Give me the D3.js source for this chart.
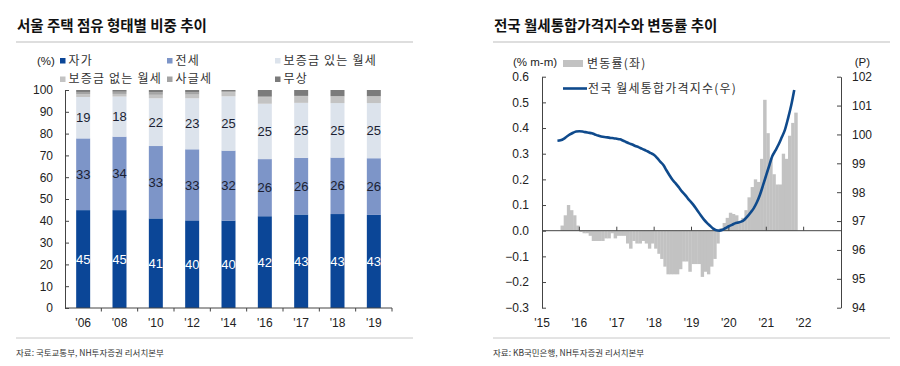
<!DOCTYPE html>
<html><head><meta charset="utf-8">
<script src="https://cdn.jsdelivr.net/npm/d3@7"></script>
<style>
body{margin:0;background:#fff;}
svg{display:block;color:#222;}
text{font-family:"Liberation Sans Narrow","Liberation Sans",Arial,sans-serif;}
.kr{font-family:"Noto Sans CJK KR","Noto Sans",sans-serif;}
</style></head><body>
<svg id="c" width="900" height="366" fill="#222"></svg>
<script>
// ---------- LEFT CHART DATA ----------
const years = ["'06","'08","'10","'12","'14","'16","'17","'18","'19"];
const seriesNames = ["자가","전세","보증금 있는 월세","보증금 없는 월세","사글세","무상"];
const owner    = [44.9,44.9,41.1,40.2,40.1,42.1,42.9,43.1,42.7];
const jeonse   = [32.9,33.7,33.2,32.6,32.1,26.2,26.0,25.9,26.0];
const rentDep  = [19.0,18.4,21.9,23.4,24.9,25.4,25.2,25.0,25.3];
const rentNoDep= [1.3,1.2,1.6,1.7,1.9,3.0,3.0,3.0,3.0];
const sagul    = [1.0,1.0,1.2,1.0,0.3,0.3,0.2,0.2,0.2];
const free     = [0.9,0.8,1.0,1.1,0.7,3.0,2.7,2.8,2.8];
const leftTicks = [0,10,20,30,40,50,60,70,80,90,100];

// ---------- RIGHT CHART DATA ----------
const rateStart = [2015,7];   // first month of change-rate bars (Jul 2015)
const rate = [0.02,0.06,0.10,0.08,0.06,0.02,-0.005,-0.01,-0.01,-0.02,-0.04,-0.04,
  -0.04,-0.04,-0.03,-0.03,-0.01,-0.03,-0.02,-0.02,-0.02,-0.05,-0.07,-0.04,
  -0.05,-0.05,-0.04,-0.05,-0.07,-0.05,-0.07,-0.09,-0.11,-0.14,-0.17,-0.17,
  -0.17,-0.17,-0.15,-0.12,-0.12,-0.16,-0.13,-0.13,-0.13,-0.18,-0.16,-0.17,
  -0.14,-0.11,-0.05,0.01,0.03,0.05,0.07,0.065,0.06,0.035,0.05,0.08,
  0.13,0.17,0.20,0.19,0.28,0.51,0.38,0.28,0.22,0.18,0.18,0.30,
  0.28,0.37,0.42,0.46];
const indexStart = [2015,6]; // first month of index line (Jun 2015)
const indexVals = [99.78,99.80,99.85,99.93,100.00,100.06,100.10,100.11,100.10,100.08,100.06,100.04,
  100.00,99.96,99.93,99.91,99.90,99.88,99.87,99.85,99.83,99.79,99.74,99.69,
  99.65,99.60,99.56,99.51,99.46,99.41,99.35,99.29,99.18,99.06,98.94,98.76,
  98.58,98.42,98.30,98.16,98.02,97.90,97.76,97.64,97.50,97.36,97.20,97.06,
  96.94,96.84,96.74,96.68,96.67,96.70,96.76,96.82,96.87,96.92,96.95,96.98,
  97.05,97.16,97.30,97.45,97.65,97.92,98.25,98.60,98.95,99.25,99.45,99.65,
  99.90,100.15,100.55,101.00,101.54];
const xYearLabels = ["'15","'16","'17","'18","'19","'20","'21","'22"];
const rateTicks = [0.6,0.5,0.4,0.3,0.2,0.1,0.0,-0.1,-0.2,-0.3];
const idxTicks = [94,95,96,97,98,99,100,101,102];

const svg = d3.select("#c");
const axisColor = "#444";

// ---------- Headers / footers ----------
function frame(x0, x1, title, source){
  svg.append("text").attr("class","kr").attr("x",x0+1).attr("y",31)
    .attr("font-size",14.5).attr("font-weight","bold").attr("fill","#111").text(title);
  svg.append("line").attr("x1",x0).attr("x2",x1).attr("y1",42).attr("y2",42)
    .attr("stroke","#bdbdbd").attr("stroke-width",1.2);
  svg.append("line").attr("x1",x0).attr("x2",x1).attr("y1",338).attr("y2",338)
    .attr("stroke","#c8c8c8").attr("stroke-width",1);
  svg.append("text").attr("class","kr").attr("x",x0).attr("y",356)
    .attr("font-size",8.5).attr("fill","#333").text(source);
}
frame(16, 413, "서울 주택 점유 형태별 비중 추이", "자료: 국토교통부, NH투자증권 리서치본부");
frame(493, 890, "전국 월세통합가격지수와 변동률 추이", "자료: KB국민은행, NH투자증권 리서치본부");

// ---------- LEFT CHART ----------
const colors = ["#0b4697","#7d95c8","#dce3ec","#c3c3c3","#a3a3a3","#7b7b7b"];
const rows = years.map((y,i)=>({year:y, s0:owner[i], s1:jeonse[i], s2:rentDep[i], s3:rentNoDep[i], s4:sagul[i], s5:free[i]}));
const keys = ["s0","s1","s2","s3","s4","s5"];
const stack = d3.stack().keys(keys)(rows);

const xL = d3.scaleBand().domain(years).range([65,392]).paddingInner(0.615).paddingOuter(0.3075);
const yL = d3.scaleLinear().domain([0,100]).range([308,90]);

const gL = svg.append("g");
stack.forEach((layer,k)=>{
  gL.append("g").selectAll("rect").data(layer).join("rect")
    .attr("x",d=>xL(d.data.year)).attr("width",xL.bandwidth())
    .attr("y",d=>yL(d[1])).attr("height",d=>yL(d[0])-yL(d[1]))
    .attr("fill",colors[k]);
});
// value labels for first three series
[0,1,2].forEach(k=>{
  gL.append("g").selectAll("text").data(stack[k]).join("text")
    .attr("x",d=>xL(d.data.year)+xL.bandwidth()/2)
    .attr("y",d=>(yL(d[0])+yL(d[1]))/2)
    .attr("dy","0.36em").attr("text-anchor","middle").attr("font-size",13)
    .style("fill",k===0?"#ffffff":"#1b1f33")
    .text(d=>Math.round(d[1]-d[0]));
});
// y axis
const axL = gL.append("g").attr("transform","translate(65,0)")
  .call(d3.axisLeft(yL).tickValues(leftTicks).tickSize(-4).tickPadding(12).tickSizeOuter(0));
axL.selectAll("text").attr("font-size",12);
axL.selectAll("line,path").attr("stroke",axisColor);
// x axis
const axX = gL.append("g").attr("transform","translate(0,308)")
  .call(d3.axisBottom(xL).tickSize(0).tickPadding(10));
axX.select(".domain").attr("d","M65,0H392").attr("stroke",axisColor);
axX.selectAll("text").attr("font-size",12);
const step = xL.step();
gL.append("g").selectAll("line").data(d3.range(1,years.length+1)).join("line")
  .attr("x1",k=>65+k*step).attr("x2",k=>65+k*step).attr("y1",308).attr("y2",311.5)
  .attr("stroke",axisColor);

// legend
svg.append("text").attr("x",37).attr("y",61).attr("dy","0.35em").attr("font-size",11.5).text("(%)");
const legPos = [[60,60.5],[167,60.5],[275,60.5],[60,79],[167,79],[275,79]];
seriesNames.forEach((n,k)=>{
  svg.append("rect").attr("x",legPos[k][0]).attr("y",legPos[k][1]-2.5).attr("width",5.5).attr("height",5.5).attr("fill",colors[k]);
  svg.append("text").attr("class","kr").attr("x",legPos[k][0]+8.5).attr("y",legPos[k][1])
    .attr("dy","0.36em").attr("font-size",12).attr("letter-spacing",1.2).attr("fill","#333").text(n);
});

// ---------- RIGHT CHART ----------
const xR = d3.scaleTime().domain([new Date(2015,0,1), new Date(2023,0,1)]).range([542,841]);
const yR = d3.scaleLinear().domain([-0.3,0.6]).range([307.7,76.7]);
const yR2 = d3.scaleLinear().domain([94,102]).range([307.7,76.7]);
const gR = svg.append("g");

const rateData = rate.map((v,i)=>({d:d3.timeMonth.offset(new Date(rateStart[0],rateStart[1]-1,1),i), v}));
gR.append("g").selectAll("rect").data(rateData).join("rect")
  .attr("x",d=>xR(d.d))
  .attr("width",d=>xR(d3.timeMonth.offset(d.d,1))-xR(d.d)+0.3)
  .attr("y",d=>yR(Math.max(0,d.v)))
  .attr("height",d=>Math.abs(yR(d.v)-yR(0)))
  .attr("fill","#c2c2c2");

// zero axis with upward ticks
const yearDates = xYearLabels.map((_,i)=>new Date(2015+i,0,1));
gR.append("line").attr("x1",542).attr("x2",841).attr("y1",yR(0)).attr("y2",yR(0)).attr("stroke",axisColor);
gR.append("g").selectAll("line").data(yearDates.slice(1)).join("line")
  .attr("x1",d=>xR(d)).attr("x2",d=>xR(d)).attr("y1",yR(0)).attr("y2",yR(0)-4).attr("stroke",axisColor);
gR.append("g").selectAll("text").data(yearDates).join("text")
  .attr("x",d=>xR(d)).attr("y",323).attr("dy","0.35em").attr("text-anchor","middle")
  .attr("font-size",12).text((d,i)=>xYearLabels[i]);

// line
const idxData = indexVals.map((v,i)=>({d:d3.timeMonth.offset(new Date(indexStart[0],indexStart[1]-1,1),i), v}));
gR.append("path").datum(idxData)
  .attr("d",d3.line().x(d=>xR(d.d)).y(d=>yR2(d.v)).curve(d3.curveMonotoneX))
  .attr("fill","none").attr("stroke","#0f4a8c").attr("stroke-width",2.6);

// axes
const axRL = gR.append("g").attr("transform","translate(542,0)")
  .call(d3.axisLeft(yR).tickValues(rateTicks).tickSize(-4).tickPadding(13).tickSizeOuter(0)
    .tickFormat(d3.format(".1f")));
axRL.selectAll("text").attr("font-size",12);
axRL.selectAll("line,path").attr("stroke",axisColor);
const axRR = gR.append("g").attr("transform","translate(841,0)")
  .call(d3.axisRight(yR2).tickValues(idxTicks).tickSize(-4).tickPadding(11).tickSizeOuter(0));
axRR.selectAll("text").attr("font-size",12);
axRR.selectAll("line,path").attr("stroke",axisColor);

svg.append("text").attr("x",513).attr("y",62).attr("dy","0.35em").attr("font-size",11.5).text("(% m-m)");
svg.append("text").attr("x",870).attr("y",62).attr("dy","0.35em").attr("text-anchor","end").attr("font-size",11.5).text("(P)");

// right legend
svg.append("rect").attr("x",563).attr("y",60).attr("width",20).attr("height",7).attr("fill","#c2c2c2");
svg.append("text").attr("class","kr").attr("x",587).attr("y",63.5).attr("dy","0.36em")
  .attr("font-size",12).attr("letter-spacing",1.2).attr("fill","#333").text("변동률(좌)");
svg.append("line").attr("x1",563).attr("x2",587).attr("y1",88.5).attr("y2",88.5).attr("stroke","#0f4a8c").attr("stroke-width",2.6);
svg.append("text").attr("class","kr").attr("x",588).attr("y",88.5).attr("dy","0.36em")
  .attr("font-size",12).attr("letter-spacing",1.2).attr("fill","#333").text("전국 월세통합가격지수(우)");
</script>
</body></html>
